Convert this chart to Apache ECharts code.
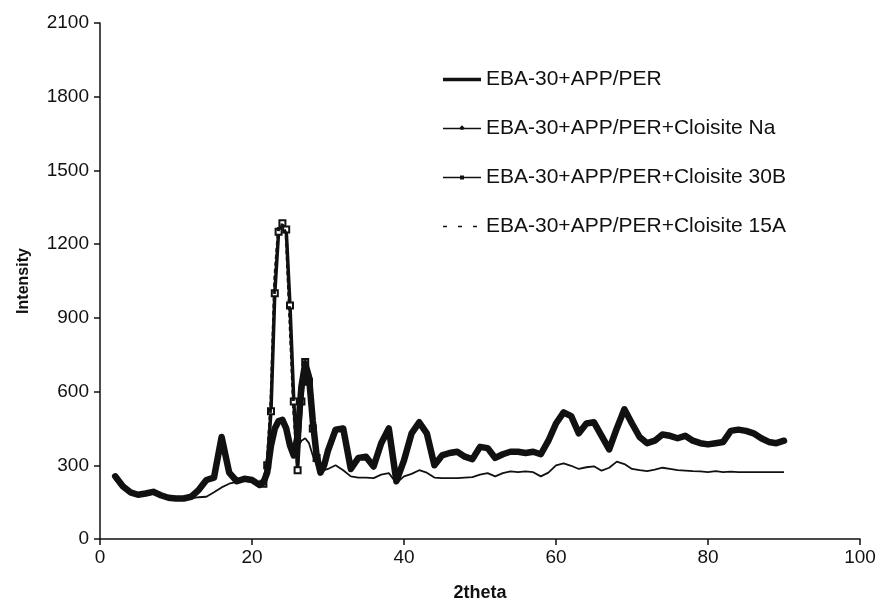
<!DOCTYPE html>
<html>
<head>
<meta charset="utf-8">
<script src="https://cdn.jsdelivr.net/npm/echarts@6/dist/echarts.min.js"></script>
<style>html,body{margin:0;padding:0;background:#fff;}#c{width:881px;height:607px;}</style>
</head>
<body>
<div id="c"></div>
<script>
// 2theta grid
var theta = [2,3,4,5,6,7,8,9,10,11,12,13,14,15,16,17,18,19,20,21,
  21.5,22,22.5,23,23.5,24,24.5,25,25.5,26,26.5,27,27.5,28,28.5,29,29.5,30,
  31,32,33,34,35,36,37,38,39,40,41,42,43,44,45,46,47,48,49,50,
  51,52,53,54,55,56,57,58,59,60,61,62,63,64,65,66,67,68,69,70,
  71,72,73,74,75,76,77,78,79,80,81,82,83,84,85,86,87,88,89,90];

var seriesNames = ['EBA-30+APP/PER','EBA-30+APP/PER+Cloisite Na','EBA-30+APP/PER+Cloisite 30B','EBA-30+APP/PER+Cloisite 15A'];

var yTicks = [0,300,600,900,1200,1500,1800,2100];
var xTicks = [0,20,40,60,80,100];

var ebaPure = [255,215,190,180,185,192,178,168,165,165,172,200,240,250,415,270,235,245,240,220,
  230,270,380,450,480,485,450,380,340,420,620,715,660,480,340,270,300,360,
  445,450,285,330,335,295,390,450,235,320,430,475,430,300,340,350,355,335,325,375,
  370,330,345,355,355,350,355,345,400,470,515,500,430,470,475,420,365,450,528,470,
  415,390,400,425,420,410,420,400,390,385,390,395,440,445,440,430,410,395,390,400];

var cloisiteNa = [240,205,185,178,182,188,175,165,162,162,165,170,172,190,210,225,232,238,232,222,
  230,300,420,460,480,490,455,380,350,370,400,410,390,340,300,275,280,285,
  300,280,255,250,250,248,262,268,228,255,265,280,270,250,248,248,248,250,252,262,
  268,255,268,275,272,275,272,255,270,300,308,298,285,292,296,278,290,315,305,285,
  280,276,282,290,285,280,278,276,275,272,276,272,274,272,272,272,272,272,272,272];

var cloisite30B = [255,215,190,180,185,192,178,168,165,165,172,200,240,250,415,270,235,245,240,220,
  225,300,520,1000,1250,1285,1260,950,560,280,560,720,640,450,330,270,300,360,
  445,455,285,330,335,295,390,450,235,320,430,475,430,300,340,350,355,335,325,375,
  370,330,345,355,355,350,355,345,400,470,515,500,430,470,475,420,365,450,528,470,
  415,390,400,425,420,410,420,400,390,385,390,395,440,445,440,430,410,395,390,400];

var cloisite15A = [252,212,188,180,184,190,177,167,164,165,171,198,238,248,410,268,236,244,238,222,
  228,310,560,1060,1270,1280,1240,880,520,300,580,710,630,440,330,272,300,360,
  448,452,286,330,336,296,392,448,238,322,430,472,428,302,340,350,354,336,326,372,
  368,332,344,354,356,350,354,346,398,468,512,498,432,468,474,420,366,448,525,468,
  416,392,402,424,420,410,418,402,390,386,390,396,438,444,440,430,410,396,392,400];

function pairs(vals){ return theta.map(function(t,i){ return [t, vals[i]]; }); }

var chart = echarts.init(document.getElementById('c'), null, {renderer:'canvas'});
var font = '"Liberation Sans", Arial, sans-serif';

// legend icons (38 x 12 box)
var box = 'M0,0 L0.01,0 M38,12 L37.99,12 ';
var icons = [
  'path://' + box + 'M0,4.3 L38,4.3 L38,7.7 L0,7.7 Z',
  'path://' + box + 'M0,5.3 L16.5,5.3 L19,2.8 L21.5,5.3 L38,5.3 L38,6.7 L21.5,6.7 L19,7.5 L16.5,6.7 L0,6.7 Z',
  'path://' + box + 'M0,5.3 L38,5.3 L38,6.7 L0,6.7 Z M17,4 L21,4 L21,8 L17,8 Z',
  'path://' + box + 'M0,5.3 L4,5.3 L4,6.7 L0,6.7 Z M15,5.3 L19,5.3 L19,6.7 L15,6.7 Z M30,5.3 L34,5.3 L34,6.7 L30,6.7 Z'
];

chart.setOption({
  animation:false,
  backgroundColor:'#fff',
  grid:{left:100,right:21,top:23,bottom:64,containLabel:false},
  legend:{
    orient:'vertical', left:438, top:64, itemGap:28, itemWidth:38, itemHeight:12,
    textStyle:{fontFamily:font,fontSize:21,color:'#111'},
    data:seriesNames.map(function(n,i){ return {name:n, icon:icons[i], itemStyle:{color:'#111',borderWidth:0}}; })
  },
  xAxis:{
    type:'value', min:xTicks[0], max:xTicks[xTicks.length-1], interval:20,
    name:'2theta', nameLocation:'middle', nameGap:45,
    nameTextStyle:{fontFamily:font,fontSize:18,fontWeight:'bold',color:'#111'},
    axisLine:{show:true,lineStyle:{color:'#111',width:1.5}},
    axisTick:{show:true,inside:false,length:6,lineStyle:{color:'#111',width:1.5}},
    axisLabel:{fontFamily:font,fontSize:19,color:'#111',margin:9,formatter:function(v){return String(v);}},
    splitLine:{show:false}
  },
  yAxis:{
    type:'value', min:yTicks[0], max:yTicks[yTicks.length-1], interval:300,
    name:'Intensity', nameLocation:'middle', nameGap:68, nameRotate:90,
    nameTextStyle:{fontFamily:font,fontSize:16,fontWeight:'bold',color:'#111'},
    axisLine:{show:true,lineStyle:{color:'#111',width:1.5}},
    axisTick:{show:true,inside:false,length:6,lineStyle:{color:'#111',width:1.5}},
    axisLabel:{fontFamily:font,fontSize:19,color:'#111',margin:11,formatter:function(v){return String(v);}},
    splitLine:{show:false}
  },
  series:[
    {name:seriesNames[0], type:'line', data:pairs(ebaPure), symbol:'none', z:5,
     lineStyle:{color:'#111',width:6.5,join:'round',cap:'round'}, itemStyle:{color:'#111'}},
    {name:seriesNames[1], type:'line', data:pairs(cloisiteNa), symbol:'none', z:6,
     lineStyle:{color:'#111',width:1.8}, itemStyle:{color:'#111'}},
    {name:seriesNames[2], type:'line', data:pairs(cloisite30B), z:3,
     symbol:function(v){ return (v[0] >= 21.5 && v[0] <= 28.5) ? 'emptyRect' : 'none'; },
     symbolSize:6, showSymbol:true,
     lineStyle:{color:'#111',width:3.5}, itemStyle:{color:'#111',borderColor:'#111',borderWidth:1.5}},
    {name:seriesNames[3], type:'line', data:pairs(cloisite15A), symbol:'none', z:4,
     lineStyle:{color:'#111',width:3,type:[4,3]}, itemStyle:{color:'#111'}}
  ]
});
</script>
</body>
</html>
